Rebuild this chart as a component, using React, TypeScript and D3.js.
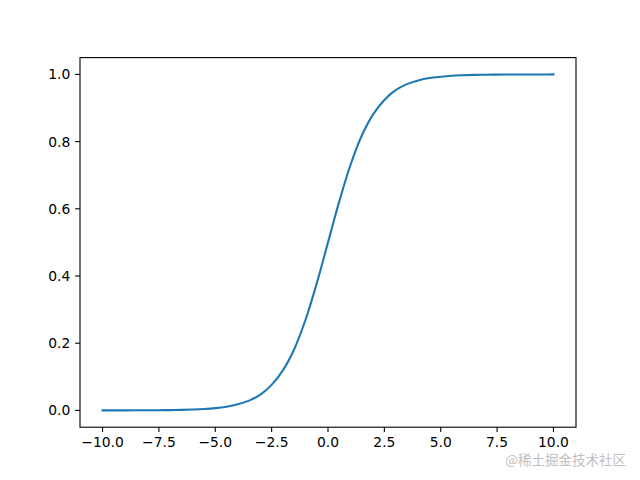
import React from "react";
import * as d3 from "d3";

const xValues = [
  -10, -9.5, -9, -8.5, -8, -7.5, -7, -6.5, -6, -5.5, -5, -4.5, -4, -3.5, -3, -2.5, -2, -1.5, -1, -0.5,
  0, 0.5, 1, 1.5, 2, 2.5, 3, 3.5, 4, 4.5, 5, 5.5, 6, 6.5, 7, 7.5, 8, 8.5, 9, 9.5, 10,
];
const yValues = [
  0.0, 0.0001, 0.0001, 0.0002, 0.0003, 0.0006, 0.0009, 0.0015, 0.0025, 0.0041, 0.0067, 0.011, 0.018,
  0.029, 0.047, 0.076, 0.119, 0.182, 0.269, 0.378, 0.5, 0.622, 0.731, 0.818, 0.881, 0.924, 0.953,
  0.971, 0.982, 0.989, 0.993, 0.996, 0.9975, 0.9985, 0.9991, 0.9994, 0.9997, 0.9998, 0.9999, 0.9999, 1.0,
];
const xTicks = [-10, -7.5, -5, -2.5, 0, 2.5, 5, 7.5, 10];
const yTicks = [0, 0.2, 0.4, 0.6, 0.8, 1.0];
const watermark = "@稀土掘金技术社区";

const W = 640;
const H = 480;
const left = 80;
const right = 576;
const top = 57.6;
const bottom = 427.2;

function fmt(v: number, digits: number) {
  return v.toFixed(digits).replace("-", "\u2212");
}

export default function App() {
  const x = d3.scaleLinear().domain([-11, 11]).range([left, right]);
  const y = d3.scaleLinear().domain([-0.05, 1.05]).range([bottom, top]);
  const pts = xValues.map((v, i) => [v, yValues[i]] as [number, number]);
  const line = d3
    .line<[number, number]>()
    .x((d) => x(d[0]))
    .y((d) => y(d[1]))
    .curve(d3.curveCatmullRom);
  const font = "'DejaVu Sans', sans-serif";
  return (
    <svg
      width={W}
      height={H}
      style={{ position: "absolute", left: 0, top: 0, background: "#fff" }}
    >
      <rect x={0} y={0} width={W} height={H} fill="#fff" />
      <path d={line(pts) || ""} fill="none" stroke="#1f77b4" strokeWidth={2.08} strokeLinecap="square" />
      <rect
        x={left}
        y={top}
        width={right - left}
        height={bottom - top}
        fill="none"
        stroke="#000"
        strokeWidth={1.1}
      />
      {xTicks.map((t) => (
        <g key={"x" + t}>
          <line x1={x(t)} x2={x(t)} y1={bottom} y2={bottom + 4.86} stroke="#000" strokeWidth={1.1} />
          <text
            x={x(t)}
            y={bottom + 4.86 + 4.86}
            dy="0.76em"
            textAnchor="middle"
            fontFamily={font}
            fontSize={13.89}
            fill="#000"
          >
            {fmt(t, 1)}
          </text>
        </g>
      ))}
      {yTicks.map((t) => (
        <g key={"y" + t}>
          <line x1={left - 4.86} x2={left} y1={y(t)} y2={y(t)} stroke="#000" strokeWidth={1.1} />
          <text
            x={left - 4.86 - 4.86}
            y={y(t)}
            dy="0.36em"
            textAnchor="end"
            fontFamily={font}
            fontSize={13.89}
            fill="#000"
          >
            {fmt(t, 1)}
          </text>
        </g>
      ))}
      <text
        x={626}
        y={465}
        textAnchor="end"
        fontFamily="'Noto Sans CJK SC', sans-serif"
        fontSize={13.5}
        fill="#c0c0c0"
      >
        {watermark}
      </text>
    </svg>
  );
}
